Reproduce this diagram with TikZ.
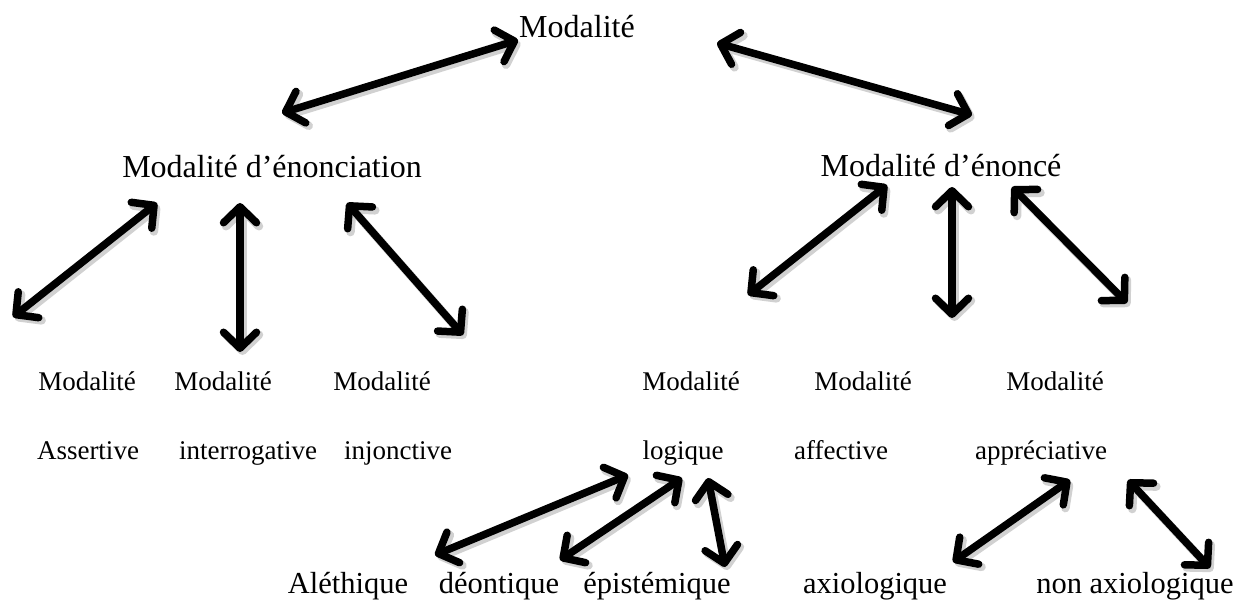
\documentclass[tikz,border=0pt]{standalone}
\usepackage{fontspec}
\setmainfont{Liberation Serif}
\usetikzlibrary{arrows.meta}
\tikzset{
  lvlA/.style={anchor=base, inner sep=0pt, font=\fontsize{32}{36}\selectfont},
  lvlB/.style={anchor=base, inner sep=0pt, font=\fontsize{27}{31}\selectfont},
  lvlC/.style={anchor=base, inner sep=0pt, font=\fontsize{30.5}{34}\selectfont},
  dblarrow/.style={line width=7.5pt, line cap=round,
    {Straight Barb[length=16pt, width=33pt, line cap=round, line join=round]}-{Straight Barb[length=16pt, width=33pt, line cap=round, line join=round]}},
  shadowarrow/.style={dblarrow, draw=black!18, line width=8.5pt, transform canvas={shift={(2.5pt,-3pt)}}}
}
\begin{document}
\begin{tikzpicture}[x=1pt, y=-1pt]
\useasboundingbox (0,0) rectangle (1239,609);
% texts
\node[lvlA] (mod) at (577,38) {Modalité};
\node[lvlA] (enonciation) at (272,178) {Modalité d’énonciation};
\node[lvlA] (enonce) at (941,177) {Modalité d’énoncé};
\node[lvlB] (m1) at (87,390) {Modalité};
\node[lvlB] (m2) at (223,390) {Modalité};
\node[lvlB] (m3) at (382,390) {Modalité};
\node[lvlB] (m4) at (691,390) {Modalité};
\node[lvlB] (m5) at (863,390) {Modalité};
\node[lvlB] (m6) at (1055,390) {Modalité};
\node[lvlB] (assertive) at (88,459) {Assertive};
\node[lvlB] (interrogative) at (248,459) {interrogative};
\node[lvlB] (injonctive) at (398,459) {injonctive};
\node[lvlB] (logique) at (683,459) {logique};
\node[lvlB] (affective) at (841,459) {affective};
\node[lvlB] (appreciative) at (1041,459) {appréciative};
\node[lvlC] (alethique) at (348,593) {Aléthique};
\node[lvlC] (deontique) at (499,593) {déontique};
\node[lvlC] (epistemique) at (657,593) {épistémique};
\node[lvlC] (axiologique) at (875,593) {axiologique};
\node[lvlC] (nonaxio) at (1135,593) {non axiologique};
% arrow end points
\coordinate (a1s) at (518,40);  \coordinate (a1e) at (282,113);
\coordinate (a2s) at (717,43);  \coordinate (a2e) at (972,115);
\coordinate (b1s) at (157,203); \coordinate (b1e) at (13,317);
\coordinate (b2s) at (240,203); \coordinate (b2e) at (240,352);
\coordinate (b3s) at (347,203); \coordinate (b3e) at (463,335);
\coordinate (c1s) at (887,185); \coordinate (c1e) at (748,295);
\coordinate (c2s) at (952,187); \coordinate (c2e) at (952,318);
\coordinate (c3s) at (1012,187); \coordinate (c3e) at (1127,303);
\coordinate (d1s) at (628,475); \coordinate (d1e) at (435,555);
\coordinate (d2s) at (682,478); \coordinate (d2e) at (560,560);
\coordinate (d3s) at (708,478); \coordinate (d3e) at (725,567);
\coordinate (e1s) at (1070,480); \coordinate (e1e) at (953,562);
\coordinate (e2s) at (1128,480); \coordinate (e2e) at (1210,568);
% shadows
\foreach \a in {a1,a2,b1,b2,b3,c1,c2,c3,d1,d2,d3,e1,e2}{
  \draw[shadowarrow] (\a s) -- (\a e);
}
% arrows
\foreach \a in {a1,a2,b1,b2,b3,c1,c2,c3,d1,d2,d3,e1,e2}{
  \draw[dblarrow] (\a s) -- (\a e);
}
\end{tikzpicture}
\end{document}
